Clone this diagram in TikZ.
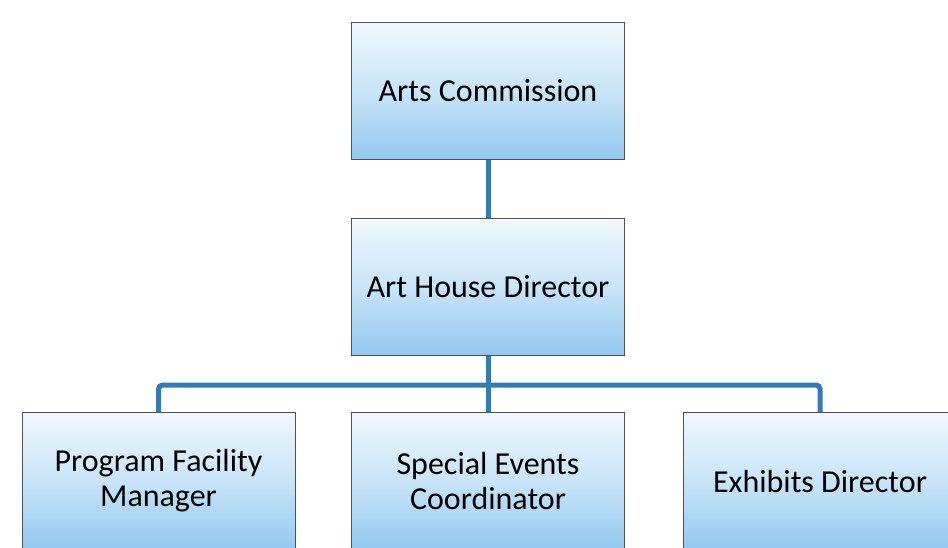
\documentclass[tikz,border=0pt]{standalone}
\usepackage{fontspec}
\setmainfont{Carlito}
\definecolor{linkblue}{RGB}{52,122,180}
\definecolor{boxtop}{RGB}{240,248,253}
\definecolor{boxmid}{RGB}{200,228,248}
\definecolor{boxbot}{RGB}{148,200,240}
\definecolor{boxedge}{RGB}{80,80,80}
\begin{document}
\begin{tikzpicture}[x=1pt,y=-1pt,
    orgbox/.style={draw=boxedge, line width=0.8pt, top color=boxtop, bottom color=boxbot,
      middle color=boxmid, minimum width=273pt, minimum height=137pt, inner sep=0pt,
      align=center, font=\fontsize{32}{35}\selectfont},
    link/.style={draw=linkblue, line width=5pt}]
      \useasboundingbox (0,0) rectangle (948,547);
      \fill[white] (0,0) rectangle (948,547);
      % boxes
      \node[orgbox] (comm) at (488,91) {Arts Commission};
      \node[orgbox] (dir) at (488,287) {Art House Director};
      \node[orgbox] (prog) at (158.5,481) {Program Facility\\Manager};
      \node[orgbox] (events) at (488,481) {Special Events\\Coordinator};
      \node[orgbox] (exhib) at (820,481) {Exhibits Director};
      % connectors
      \coordinate (bus) at (488,385);
      \draw[link] (comm.south) -- (dir.north);
      \draw[link] (dir.south) -- (events.north);
      \draw[link, rounded corners=4pt] (prog.north) |- (bus) -| (exhib.north);
    \end{tikzpicture}
\end{document}
